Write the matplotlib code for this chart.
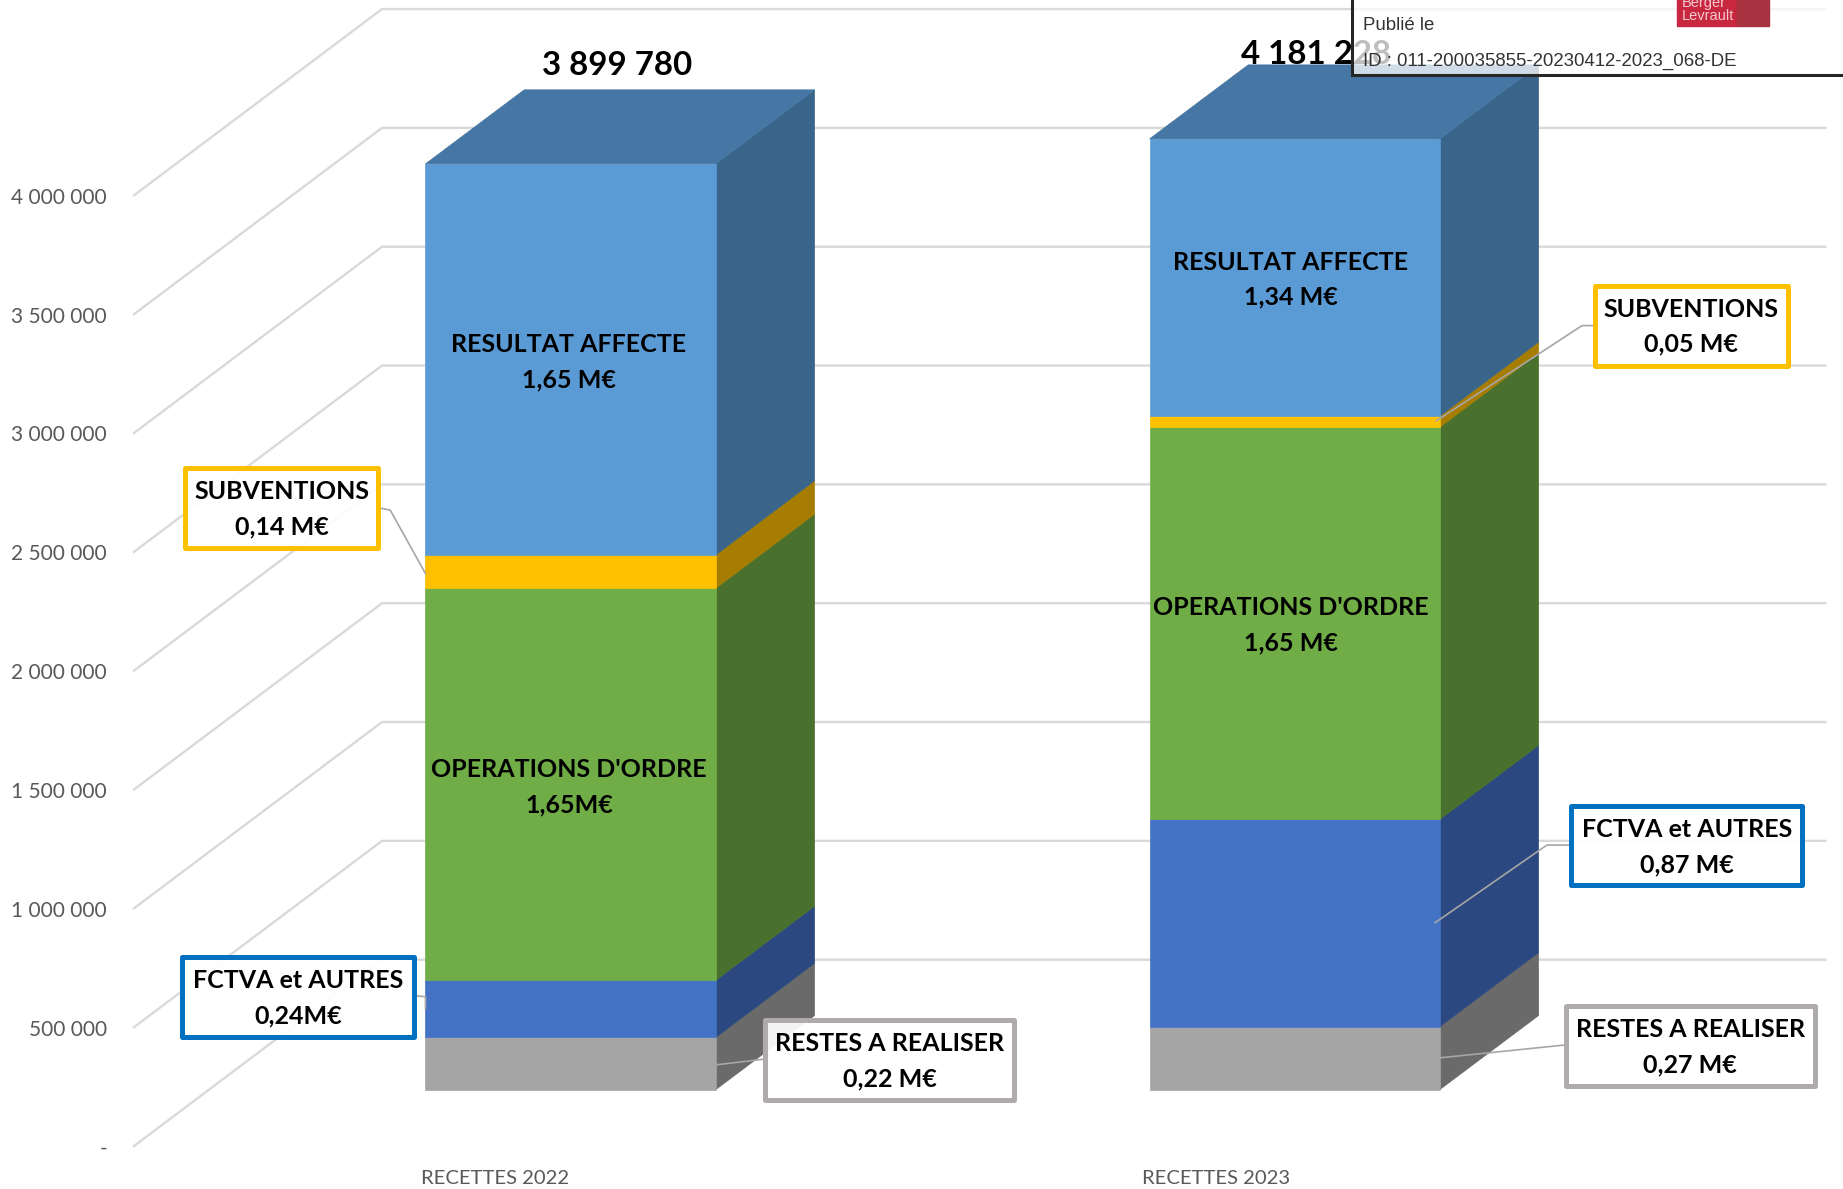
import matplotlib
matplotlib.use('Agg')
import matplotlib.pyplot as plt
from matplotlib.patches import Polygon, Rectangle

# CONFIGURATION
W, H = 1843, 1189
S = 1843 / 1568  # the positions below were read on a 1568 px wide view

categories = ["RECETTES 2022", "RECETTES 2023"]
totals = ["3 899 780", "4 181 228"]
tick_values = [0, 500000, 1000000, 1500000, 2000000, 2500000, 3000000, 3500000, 4000000]
tick_labels = ["-", "500 000", "1 000 000", "1 500 000", "2 000 000", "2 500 000",
               "3 000 000", "3 500 000", "4 000 000"]

# stacked heights, bottom to top, as drawn
restes = [220000, 265000]
fctva = [240000, 872000]
operations = [1650000, 1650000]
subventions = [140000, 47000]
resultat = [1645000, 1166000]

# (values, front colour, side colour, top colour)
series = [
    (restes, "#A5A5A5", "#6A6A6A", "#7c7c7c"),
    (fctva, "#4472C4", "#2B4880", "#335693"),
    (operations, "#70AD47", "#4A702E", "#548235"),
    (subventions, "#FFC000", "#A67D00", "#BF9000"),
    (resultat, "#5B9BD5", "#3A658B", "#4676A3"),
]

GRID = "#D9D9D9"
TICK = "#595959"
FONT = "Lato"

# value scale: 202.2 px (view) per million, 0 on the front plane at y=975
PX_PER_VALUE = 202.2 / 1e6
CAT_PX = 616.0  # view px between categories
x0_view = 485.5  # category 0 centre
y0_view = 975.0

fig = plt.figure(figsize=(W / 100, H / 100), dpi=100)
ax = fig.add_axes([0, 0, 1, 1])
ax.set_xlim(-x0_view / CAT_PX, (W / S - x0_view) / CAT_PX)
ax.set_ylim((y0_view - H / S) / PX_PER_VALUE, y0_view / PX_PER_VALUE)
ax.axis('off')

# offsets in data units
def dx(px):
    return px / CAT_PX

def dy(px):
    return px / PX_PER_VALUE

def view(x, y):
    # view pixel -> data position, for labels and callouts
    return (x - x0_view) / CAT_PX, (y0_view - y) / PX_PER_VALUE

# --- WALLS ---
wall_left = view(114, 0)[0]
wall_back = view(325, 0)[0]
grid_right = view(1553, 0)[0]
for v, lab in zip(tick_values, tick_labels):
    ax.plot([wall_left, wall_back, grid_right], [v, v + dy(158.5), v + dy(158.5)],
            color=GRID, lw=1.7, zorder=1, solid_joinstyle='miter')
    ax.text(wall_left - dx(23), v - dy(2), lab, ha='right', va='center', fontsize=15,
            color=TICK, family=FONT)

# --- BARS ---
bar_w = 247 / CAT_PX
floor = dy(48)  # bar base sits above the front plane
depth_x, depth_y = dx(84), dy(63)
for i in range(len(categories)):
    left = i - bar_w / 2
    right = left + bar_w
    bottom = floor
    for values, front, side, top in series:
        h = values[i]
        ax.add_patch(Polygon([(right, bottom), (right + depth_x, bottom + depth_y),
                              (right + depth_x, bottom + h + depth_y), (right, bottom + h)],
                             closed=True, fc=side, ec=side, lw=0.5, zorder=3))
        ax.add_patch(Rectangle((left, bottom), bar_w, h, fc=front, ec=front, lw=0.5, zorder=4))
        bottom += h
    # only the top of the stack shows its lid
    ax.add_patch(Polygon([(left, bottom), (left + depth_x, bottom + depth_y),
                          (right + depth_x, bottom + depth_y), (right, bottom)],
                         closed=True, fc=series[-1][3], ec=series[-1][3], lw=0.5, zorder=4))
    cx = view(421 + 614 * i, 0)[0]
    ax.text(cx, view(0, 1003)[1], categories[i], ha='center', va='center', fontsize=14.6,
            color=TICK, family=FONT)

ax.text(*view(525, 56), totals[0], ha='center', va='center', fontsize=23.8, fontweight='bold',
        color='black', family=FONT, zorder=6)
ax.text(*view(1120, 46), totals[1], ha='center', va='center', fontsize=23.8, fontweight='bold',
        color='black', family=FONT, zorder=6)

# --- LABELS ON THE BARS ---
inside = [
    (484, 308, "RESULTAT AFFECTE\n1,65 M€"),
    (484, 670, "OPERATIONS D'ORDRE\n1,65M€"),
    (1098, 238, "RESULTAT AFFECTE\n1,34 M€"),
    (1098, 532, "OPERATIONS D'ORDRE\n1,65 M€"),
]
for x, y, txt in inside:
    ax.text(*view(x, y), txt, ha='center', va='center', fontsize=18, fontweight='bold',
            color='black', family=FONT, linespacing=1.64, zorder=7)

# --- CALLOUTS ---
YEL = "#FFC000"
BLU = "#0070C0"
GRY = "#AFABAB"
callouts = [
    (157, 398, 322, 466, YEL, "SUBVENTIONS\n0,14 M€", [(322, 432), (332, 434), (362, 488)]),
    (155, 814, 352, 882, BLU, "FCTVA et AUTRES\n0,24M€", [(352, 847), (362, 848), (362, 858)]),
    (651, 868, 863, 936, GRY, "RESTES A REALISER\n0,22 M€", [(651, 901), (609, 906)]),
    (1357, 243, 1521, 311, YEL, "SUBVENTIONS\n0,05 M€", [(1357, 277), (1346, 277), (1222, 358)]),
    (1337, 686, 1533, 753, BLU, "FCTVA et AUTRES\n0,87 M€", [(1337, 719), (1316, 719), (1221, 785)]),
    (1332, 856, 1544, 924, GRY, "RESTES A REALISER\n0,27 M€", [(1332, 889), (1225, 900)]),
]
for x1, y1, x2, y2, col, txt, leader in callouts:
    pts = [view(*p) for p in leader]
    ax.plot([p[0] for p in pts], [p[1] for p in pts], color="#A6A6A6", lw=1.2, zorder=5)
    ax.add_patch(Polygon([view(x1, y1), view(x2, y1), view(x2, y2), view(x1, y2)], closed=True,
                         fc=(1, 1, 1, 0.93), ec=col, lw=3.6, zorder=6, joinstyle='round'))
    ax.text(*view((x1 + x2) / 2, (y1 + y2) / 2 + 1), txt, ha='center', va='center', fontsize=18,
            fontweight='bold', color='black', family=FONT, linespacing=1.64, zorder=7)

# --- STAMP (top right corner) ---
ax.add_patch(Polygon([view(1150, -5), view(1575, -5), view(1575, 64), view(1150, 64)], closed=True,
                     fc=(1, 1, 1, 0.75), ec="#262626", lw=2.2, zorder=8))
ax.add_patch(Polygon([view(1427, -5), view(1478, -5), view(1478, 22), view(1427, 22)], closed=True,
                     fc="#C8283F", ec="#C8283F", lw=1, zorder=9, joinstyle='round'))
ax.add_patch(Polygon([view(1478, -5), view(1505, -5), view(1505, 22), view(1478, 22)], closed=True,
                     fc="#A8323F", ec="#A8323F", lw=1, zorder=9))
ax.text(*view(1431, 8), "Berger\nLevrault", ha='left', va='center', fontsize=10.5, color='#F3C9CF',
        family="Liberation Sans", linespacing=0.9, zorder=10)
ax.text(*view(1160, 22), "Publié le", ha='left', va='center', fontsize=13.4, color="#333333",
        family="Liberation Sans", zorder=10)
ax.text(*view(1160, 52), "ID : 011-200035855-20230412-2023_068-DE", ha='left', va='center',
        fontsize=13.4, color="#333333", family="Liberation Sans", zorder=10)

fig.savefig("out.png", dpi=100)
